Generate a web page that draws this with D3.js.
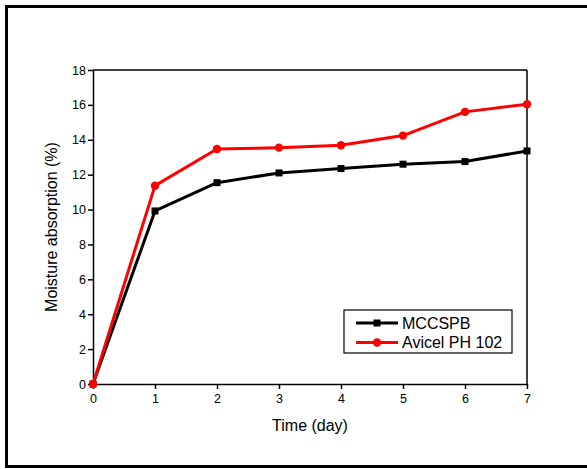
<!DOCTYPE html>
<html><head><meta charset="utf-8">
<script src="https://cdn.jsdelivr.net/npm/d3@7"></script>
<style>body{margin:0;background:#fff}svg{display:block;font-family:Arial,"Liberation Sans",sans-serif}</style>
</head><body>
<svg id="c" width="587" height="469"></svg>
<script>
const days = [0,1,2,3,4,5,6,7];
const mccspb = [0,9.92,11.54,12.1,12.35,12.6,12.75,13.36];
const avicel = [0,11.37,13.47,13.55,13.69,14.24,15.6,16.04];
const xTicks = [0,1,2,3,4,5,6,7];
const yTicks = [0,2,4,6,8,10,12,14,16,18];
const seriesNames = ["MCCSPB","Avicel PH 102"];
const colors = ["#000000","#ff0000"];

const svg = d3.select("#c");
svg.append("rect").attr("x",6.5).attr("y",6.5).attr("width",600).attr("height",460)
  .attr("fill","none").attr("stroke","#000").attr("stroke-width",3);

const L=93,R=527,T=70,B=384;
const x = d3.scaleLinear().domain([0,7]).range([L,R]);
const y = d3.scaleLinear().domain([0,18]).range([B,T]);

svg.append("line").attr("x1",L).attr("x2",R).attr("y1",T).attr("y2",T).attr("stroke","#000").attr("stroke-width",1.5);
svg.append("line").attr("x1",R).attr("x2",R).attr("y1",T).attr("y2",B).attr("stroke","#000").attr("stroke-width",1.5);

const xa = svg.append("g").attr("transform",`translate(0,${B})`)
  .call(d3.axisBottom(x).tickValues(xTicks).tickSize(5).tickSizeOuter(0).tickFormat(d3.format("d")));
const ya = svg.append("g").attr("transform",`translate(${L},0)`)
  .call(d3.axisLeft(y).tickValues(yTicks).tickSize(5).tickSizeOuter(0).tickFormat(d3.format("d")));
[xa,ya].forEach(a=>{
  a.select(".domain").attr("stroke-width",1.5);
  a.selectAll(".tick line").attr("stroke-width",1.5);
  a.selectAll(".tick text").attr("font-size",12.5).attr("font-family","Arial, 'Liberation Sans', sans-serif").attr("fill","#000");
});
xa.selectAll(".tick text").attr("dy","0.9em");
ya.selectAll(".tick text").attr("x",-7);

svg.append("text").attr("x",310).attr("y",431).attr("text-anchor","middle")
  .attr("font-size",16).text("Time (day)");
svg.append("text").attr("transform",`translate(57,${(T+B)/2}) rotate(-90)`).attr("text-anchor","middle")
  .attr("font-size",16).text("Moisture absorption (%)");

const data = [mccspb, avicel];
const line = d3.line().x((d,i)=>x(days[i])).y(d=>y(d));
data.forEach((s,k)=>{
  svg.append("path").datum(s).attr("d",line).attr("fill","none")
    .attr("stroke",colors[k]).attr("stroke-width",3).attr("stroke-linejoin","round");
  if(k===0){
    svg.selectAll(null).data(s).enter().append("rect")
      .attr("x",(d,i)=>x(days[i])-3.5).attr("y",d=>y(d)-3.5).attr("width",7).attr("height",7).attr("fill",colors[k]);
  } else {
    svg.selectAll(null).data(s).enter().append("circle")
      .attr("cx",(d,i)=>x(days[i])).attr("cy",d=>y(d)).attr("r",4.2).attr("fill",colors[k]);
  }
});

const lg = svg.append("g");
lg.append("rect").attr("x",344).attr("y",310).attr("width",168).attr("height",43)
  .attr("fill","#fff").attr("stroke","#000").attr("stroke-width",1.2);
seriesNames.forEach((n,k)=>{
  const yy = 323 + k*19.5;
  lg.append("line").attr("x1",356).attr("x2",398).attr("y1",yy).attr("y2",yy).attr("stroke",colors[k]).attr("stroke-width",3);
  if(k===0) lg.append("rect").attr("x",373.5).attr("y",yy-3.5).attr("width",7).attr("height",7).attr("fill",colors[k]);
  else lg.append("circle").attr("cx",377).attr("cy",yy).attr("r",4.2).attr("fill",colors[k]);
  lg.append("text").attr("x",402).attr("y",yy+5.5).attr("font-size",16).text(n);
});
</script>
</body></html>
